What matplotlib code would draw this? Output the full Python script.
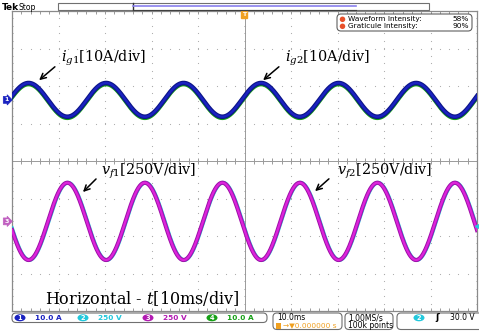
"""
Oscilloscope capture: grid currents and filter voltages (Tek screen).
"""

import numpy as np
import matplotlib
matplotlib.use("Agg")
import matplotlib.pyplot as plt
from matplotlib.patches import Rectangle, FancyBboxPatch, Ellipse

plt.rcParams.update({
    "mathtext.fontset": "dejavuserif",
    "font.family": "DejaVu Sans",
})

# Screen settings read from the capture (10 x 8 divisions, 10 ms/div)
TIME_PER_DIV_MS = 10.0
N_DIV_X = 10
N_DIV_Y = 8
FREQ_HZ = 60.0

# Channel readings (in divisions on screen)
i_ampl_div = 0.45
i_offset_div = 1.63
i_peak_ms = 3.57
ch4_shift_div = -0.03

v_ampl_div = 1.03
v_offset_div = -1.61
v_peak_ms = 11.9
ch2_shift_ms = 0.12

trig_level_div = -1.73

channel_labels = ["1", "2", "3", "4"]
channel_scales = ["10.0 A", "250 V", "250 V", "10.0 A"]
channel_colors = ["#1a22c0", "#22c8dc", "#b21ab2", "#16a016"]

W, H = 479, 334
fig = plt.figure(figsize=(W / 100, H / 100), dpi=100)
fig.patch.set_facecolor("white")

# graticule area in pixels
gx0, gx1, gy0, gy1 = 12, 477, 11, 311
ax = fig.add_axes([gx0 / W, (H - gy1) / H, (gx1 - gx0) / W, (gy1 - gy0) / H])
half_t = TIME_PER_DIV_MS * N_DIV_X / 2
ax.set_xlim(-half_t, half_t)
ax.set_ylim(-N_DIV_Y / 2, N_DIV_Y / 2)
ax.set_xticks([])
ax.set_yticks([])
for s in ax.spines.values():
    s.set_color("#8a8a8a")
    s.set_linewidth(0.9)

# dotted graticule
xs_div = np.arange(-half_t, half_t + 0.01, TIME_PER_DIV_MS)
ys_div = np.arange(-N_DIV_Y / 2, N_DIV_Y / 2 + 0.01, 1.0)
xs_fine = np.arange(-half_t, half_t + 0.01, TIME_PER_DIV_MS / 5)
ys_fine = np.arange(-N_DIV_Y / 2, N_DIV_Y / 2 + 0.01, 0.2)
gx, gy = np.meshgrid(xs_div[1:-1], ys_fine)
ax.scatter(gx.ravel(), gy.ravel(), s=0.7, c="#aaaaaa", lw=0, zorder=1)
gx, gy = np.meshgrid(xs_fine, ys_div[1:-1])
ax.scatter(gx.ravel(), gy.ravel(), s=0.7, c="#aaaaaa", lw=0, zorder=1)

# center cross with minor ticks
ax.axhline(0, color="#9a9a9a", lw=0.7, zorder=1)
ax.axvline(0, color="#9a9a9a", lw=0.7, zorder=1)
tick_h = 0.07
ax.vlines(xs_fine, -tick_h, tick_h, color="#9a9a9a", lw=0.7, zorder=1)
ax.hlines(ys_fine, -tick_h * 1.6, tick_h * 1.6, color="#9a9a9a", lw=0.7, zorder=1)
# edge ticks
ax.vlines(xs_fine, N_DIV_Y / 2 - tick_h, N_DIV_Y / 2, color="#9a9a9a", lw=0.7)
ax.vlines(xs_fine, -N_DIV_Y / 2, -N_DIV_Y / 2 + tick_h, color="#9a9a9a", lw=0.7)
ax.hlines(ys_fine, -half_t, -half_t + tick_h * 1.6, color="#9a9a9a", lw=0.7)
ax.hlines(ys_fine, half_t - tick_h * 1.6, half_t, color="#9a9a9a", lw=0.7)

# waveforms
t = np.linspace(-half_t, half_t, 3000)
w = 2 * np.pi * FREQ_HZ / 1000.0
i_trace = i_offset_div + i_ampl_div * np.cos(w * (t - i_peak_ms))
v_trace = v_offset_div + v_ampl_div * np.cos(w * (t - v_peak_ms))
v2_trace = v_offset_div + v_ampl_div * np.cos(w * (t - v_peak_ms - ch2_shift_ms))

ax.plot(t, i_trace + ch4_shift_div, color=channel_colors[3], lw=3.2, zorder=3)
ax.plot(t, i_trace, color="#0c1488", lw=3.3, zorder=4)
ax.plot(t, i_trace, color=channel_colors[0], lw=1.7, zorder=5)

ax.plot(t, v2_trace, color=channel_colors[1], lw=2.8, zorder=3)
ax.plot(t, v_trace, color="#a010a8", lw=3.0, zorder=4)
ax.plot(t, v_trace, color="#dc24dc", lw=1.6, zorder=5)

# channel ground markers on the left, trigger level on the right
ytr = ax.get_yaxis_transform()
for off, lab, col in [(i_offset_div, "1", channel_colors[0]),
                      (v_offset_div, "3", "#c060c0")]:
    ax.text(-0.012, off, lab, transform=ytr, ha="center", va="center",
            fontsize=4.5, color="white", fontweight="bold", clip_on=False,
            bbox=dict(boxstyle="rarrow,pad=0.15", fc=col, ec=col, lw=0.5))
ax.plot([1.0], [trig_level_div], transform=ytr, marker="<", ms=3,
        color=channel_colors[1], clip_on=False, zorder=6)

# overlay in pixel coords for screen furniture and annotations
ov = fig.add_axes([0, 0, 1, 1], facecolor="none")
ov.set_xlim(0, W)
ov.set_ylim(H, 0)
ov.axis("off")

ov.text(2, 7, "Tek", fontsize=6.5, fontweight="bold", va="center")
ov.text(19, 7.3, "Stop", fontsize=5.5, va="center")
ov.add_patch(Rectangle((58, 2.5), 371, 7.5, fc="white", ec="#707070", lw=0.8))
ov.plot([133, 133], [2.5, 10], color="#303030", lw=1)
ov.plot([133, 356], [6.3, 6.3], color="#8a80ee", lw=1.2)
ov.plot([133, 356], [9.8, 9.8], color="#404040", lw=0.8)

# trigger position marker
ov.add_patch(Rectangle((241.5, 11), 6, 7, fc="#f0a020", ec="#f0a020"))
ov.text(244.5, 14.7, "T", fontsize=4.5, color="white", fontweight="bold",
        ha="center", va="center")

# intensity readout
ov.add_patch(FancyBboxPatch((337, 14), 135, 17, boxstyle="round,pad=0,rounding_size=4",
                            fc="white", ec="#606060", lw=0.8, zorder=7))
for yy, lab, val in [(19.3, "Waveform Intensity:", "58%"),
                     (26.3, "Graticule Intensity:", "90%")]:
    ov.add_patch(Ellipse((342.5, yy), 5.5, 5.5, fc="#e8502a", ec="none", zorder=8))
    ov.text(348, yy, lab, fontsize=5.3, va="center", zorder=8)
    ov.text(469, yy, val, fontsize=5.3, va="center", ha="right", zorder=8)

# annotations
txt_kw = dict(fontsize=10.4, family="DejaVu Serif", va="center", ha="left")
arr_kw = dict(arrowstyle="->", lw=1.1, color="black", mutation_scale=10)
ann = [(r"$i_{g1}$[10A/div]", (61, 58), (57, 65), (37, 82)),
       (r"$i_{g2}$[10A/div]", (285, 58), (281, 65), (261, 82)),
       (r"$v_{f1}$[250V/div]", (101, 171), (98, 177), (81, 194)),
       (r"$v_{f2}$[250V/div]", (337, 171), (331, 177), (313, 193))]
for s, tp, tail, tip in ann:
    ov.text(tp[0], tp[1], s, **txt_kw)
    ov.annotate("", xy=tip, xytext=tail, arrowprops=arr_kw)

ov.text(45, 298, r"Horizontal - $t$[10ms/div]", fontsize=11.5,
        family="DejaVu Serif", va="center", ha="left")

# status bar: channel settings
ov.add_patch(FancyBboxPatch((12, 313), 255, 9.5, boxstyle="round,pad=0,rounding_size=4",
                            fc="white", ec="#707070", lw=0.8))
badge_x = [20, 83, 148, 212]
for bx, lab, sc, col in zip(badge_x, channel_labels, channel_scales, channel_colors):
    ov.add_patch(Ellipse((bx, 317.8), 11, 7, fc=col, ec="none"))
    ov.text(bx, 318, lab, fontsize=4.8, color="white", fontweight="bold",
            ha="center", va="center")
    ov.text(bx + 15, 318, sc, fontsize=5.3, color=col, fontweight="bold", va="center")

# time base
ov.add_patch(FancyBboxPatch((273, 313), 69, 16.5, boxstyle="round,pad=0,rounding_size=4",
                            fc="white", ec="#707070", lw=0.8))
ov.text(277, 317.7, "10.0ms", fontsize=5.5, va="center")
ov.add_patch(Rectangle((276.5, 322.5), 5, 6, fc="#f0a020", ec="none"))
ov.text(283, 325.6, "\u2192\u25bc0.000000 s", fontsize=5.3, color="#f0a020", va="center")

ov.add_patch(FancyBboxPatch((345, 313), 48, 16.5, boxstyle="round,pad=0,rounding_size=4",
                            fc="white", ec="#707070", lw=0.8))
ov.text(348, 317.7, "1.00MS/s", fontsize=5.5, va="center")
ov.text(348, 325.6, "100k points", fontsize=5.5, va="center")

# trigger
ov.add_patch(FancyBboxPatch((397, 313), 90, 16.5, boxstyle="round,pad=0,rounding_size=4",
                            fc="white", ec="#707070", lw=0.8))
ov.add_patch(Ellipse((419, 317.8), 11, 7, fc=channel_colors[1], ec="none"))
ov.text(419, 318, "2", fontsize=4.8, color="white", fontweight="bold",
        ha="center", va="center")
ov.text(437, 318, "\u0283", fontsize=6.5, va="center", ha="center", fontweight="bold")
ov.text(475, 318, "30.0 V", fontsize=5.5, va="center", ha="right")

fig.savefig("out.png", dpi=100)
plt.close()
